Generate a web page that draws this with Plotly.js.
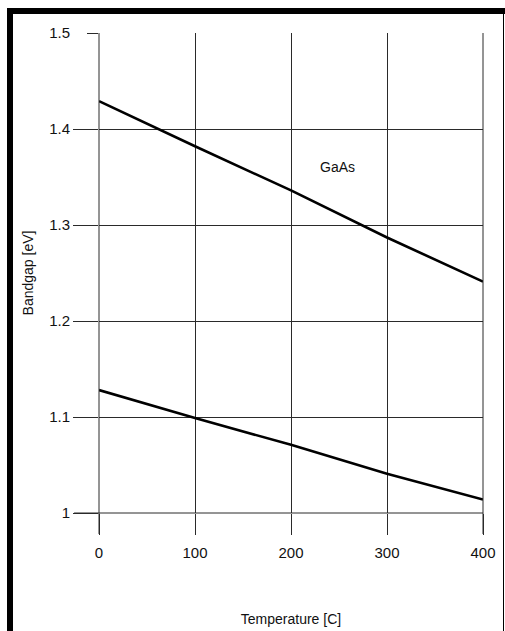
<!DOCTYPE html>
<html>
<head>
<meta charset="utf-8">
<script src="https://cdn.plot.ly/plotly-3.0.1.min.js"></script>
<style>
  html, body { margin: 0; padding: 0; background: #fff; }
  #wrap { position: relative; width: 505px; height: 631px; overflow: hidden; }
  #chart { position: absolute; left: 0; top: 0; width: 505px; height: 631px; }
  .bd { position: absolute; background: #000; }
</style>
</head>
<body>
<div id="wrap">
  <div id="chart"></div>
  <div class="bd" style="left:7px;top:8px;width:498px;height:6px;"></div>
  <div class="bd" style="left:7px;top:8px;width:6px;height:623px;"></div>
  <div class="bd" style="left:503px;top:8px;width:1px;height:623px;"></div>
</div>
<script>
// Data
const temperatures = [0, 100, 200, 300, 400];          // Temperature [C]
const gaasBandgap  = [1.429, 1.382, 1.336, 1.287, 1.241]; // GaAs [eV]
const siBandgap    = [1.128, 1.099, 1.071, 1.041, 1.014]; // lower curve [eV]
const xTicks = [0, 100, 200, 300, 400];
const yTicks = [1, 1.1, 1.2, 1.3, 1.4];
const yTopTick = [1.5];
const yTickText = ['1', '1.1', '1.2', '1.3', '1.4'];
const yTopTickText = ['1.5'];
const labelText = 'GaAs';

const font = {family: 'Liberation Sans, Arial, sans-serif', size: 14, color: '#111'};
const tickFont = {family: 'Liberation Sans, Arial, sans-serif', size: 15, color: '#111'};
const gridC = '#2a2a2a';

const traces = [
  {x: temperatures, y: gaasBandgap, type: 'scatter', mode: 'lines',
   line: {color: '#000', width: 2.6}, hoverinfo: 'skip', showlegend: false},
  {x: temperatures, y: siBandgap, type: 'scatter', mode: 'lines',
   line: {color: '#000', width: 2.6}, hoverinfo: 'skip', showlegend: false}
];

const plotW = 385, plotH = 481;
const xMin = xTicks[0], xMax = xTicks[xTicks.length - 1];
const yMin = yTicks[0], yMax = yTopTick[0];

// edge grid lines on the plot-area borders (Plotly omits grid lines on the range ends)
const edgeShapes = [
  {type: 'line', xref: 'paper', yref: 'paper', x0: 0, x1: 0, y0: -21 / plotH, y1: 1,
   line: {color: gridC, width: 1}, layer: 'above'},
  {type: 'line', xref: 'paper', yref: 'paper', x0: 1, x1: 1, y0: -21 / plotH, y1: 1,
   line: {color: gridC, width: 1}, layer: 'above'},
  {type: 'line', xref: 'paper', yref: 'paper', x0: -25 / plotW, x1: 1, y0: 0, y1: 0,
   line: {color: gridC, width: 1}, layer: 'above'}
];

const layout = {
  width: 505, height: 631,
  margin: {l: 98.5, r: 21.5, t: 32.5, b: 117.5},
  paper_bgcolor: 'rgba(0,0,0,0)', plot_bgcolor: '#fff',
  font: font,
  showlegend: false,
  xaxis: {
    range: [xMin, xMax], tickvals: xTicks, ticktext: xTicks.map(String),
    showgrid: true, gridcolor: gridC, gridwidth: 1,
    ticks: 'outside', ticklen: 21, tickcolor: gridC, tickwidth: 1,
    ticklabelstandoff: 5,
    zeroline: false, showline: false, automargin: false,
    tickfont: tickFont,
    title: {text: 'Temperature [C]', font: font, standoff: 54}
  },
  yaxis: {
    range: [yMin, yMax], tickvals: yTicks, ticktext: yTickText,
    showgrid: true, gridcolor: gridC, gridwidth: 1,
    ticks: 'outside', ticklen: 25, tickcolor: gridC, tickwidth: 1,
    zeroline: false, showline: false, automargin: false,
    tickfont: tickFont,
    title: {text: 'Bandgap [eV]', font: font, standoff: 12}
  },
  yaxis2: {
    overlaying: 'y', side: 'left', range: [yMin, yMax],
    tickvals: yTopTick, ticktext: yTopTickText,
    showgrid: false, zeroline: false, showline: false,
    ticks: 'outside', ticklen: 11, tickcolor: gridC, tickwidth: 1,
    ticklabelstandoff: 14, automargin: false, tickfont: tickFont
  },
  shapes: edgeShapes,
  annotations: [
    {x: 248, y: 1.36, xref: 'x', yref: 'y', text: labelText, showarrow: false, font: font}
  ]
};

// invisible trace to activate yaxis2
traces.push({x: [xMin], y: [yMax], yaxis: 'y2', mode: 'markers', marker: {opacity: 0}, hoverinfo: 'skip', showlegend: false});

Plotly.newPlot('chart', traces, layout, {staticPlot: true, displayModeBar: false});
</script>
</body>
</html>
